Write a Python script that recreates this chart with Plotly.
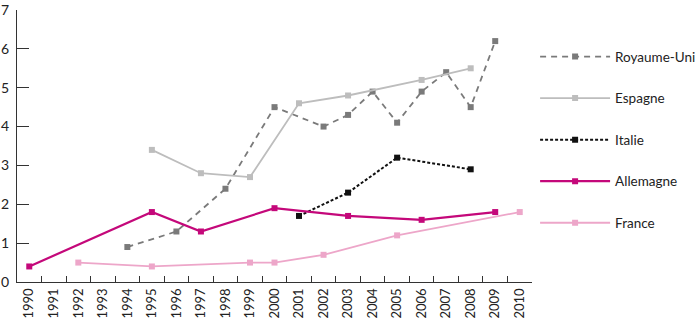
import plotly.graph_objects as go

years = [str(y) for y in range(1990, 2011)]

ru_years = [1994, 1996, 1998, 2000, 2002, 2003, 2004, 2005, 2006, 2007, 2008, 2009]
ru_vals = [0.9, 1.3, 2.4, 4.5, 4.0, 4.3, 4.9, 4.1, 4.9, 5.4, 4.5, 6.2]

es_years = [1995, 1997, 1999, 2001, 2003, 2006, 2008]
es_vals = [3.4, 2.8, 2.7, 4.6, 4.8, 5.2, 5.5]

it_years = [2001, 2003, 2005, 2008]
it_vals = [1.7, 2.3, 3.2, 2.9]

de_years = [1990, 1995, 1997, 2000, 2003, 2006, 2009]
de_vals = [0.4, 1.8, 1.3, 1.9, 1.7, 1.6, 1.8]

fr_years = [1992, 1995, 1999, 2000, 2002, 2005, 2010]
fr_vals = [0.5, 0.4, 0.5, 0.5, 0.7, 1.2, 1.8]

series = [
    ("Royaume-Uni", ru_years, ru_vals, "#7a7a7a", "6px,5px", 1.8),
    ("Espagne", es_years, es_vals, "#bdbdbd", "solid", 1.8),
    ("Italie", it_years, it_vals, "#111111", "3px,2px", 2.0),
    ("Allemagne", de_years, de_vals, "#c4087a", "solid", 2.2),
    ("France", fr_years, fr_vals, "#eda6c9", "solid", 1.8),
]

fig = go.Figure()
for name, xs, ys, color, dash, w in series:
    fig.add_trace(go.Scatter(
        x=[str(x) for x in xs], y=ys, name=name, mode="lines+markers",
        line=dict(color=color, width=w, dash=dash),
        marker=dict(symbol="square", size=6, color=color),
        legendgroup=name,
    ))

font = "Lato, 'Open Sans', sans-serif"
fig.update_layout(
    width=695, height=322,
    margin=dict(l=17, r=163, t=10, b=40, autoexpand=False),
    paper_bgcolor="white", plot_bgcolor="white",
    font=dict(family=font, size=13, color="#222"),
    showlegend=True,
    legend=dict(x=1.006, y=0.885, xanchor="left", yanchor="top",
                itemwidth=70, tracegroupgap=21, font=dict(size=13.5),
                bgcolor="rgba(0,0,0,0)"),
    xaxis=dict(type="category", categoryorder="array", categoryarray=years,
               range=[-0.5, 20.5], tickson="boundaries", ticks="inside",
               ticklen=6, tickcolor="#333", tickwidth=1.3,
               showline=True, linecolor="#333", linewidth=1.3,
               showgrid=False, tickangle=-90, tickfont=dict(size=13),
               automargin=False, fixedrange=True),
    yaxis=dict(range=[0, 7], dtick=1, ticks="inside", ticklen=12,
               tickcolor="#333", tickwidth=1.3, showline=True,
               linecolor="#333", linewidth=1.3, showgrid=False,
               zeroline=False, tickfont=dict(size=14), ticklabelstandoff=4,
               automargin=False),
)

fig.write_html("out.html")
